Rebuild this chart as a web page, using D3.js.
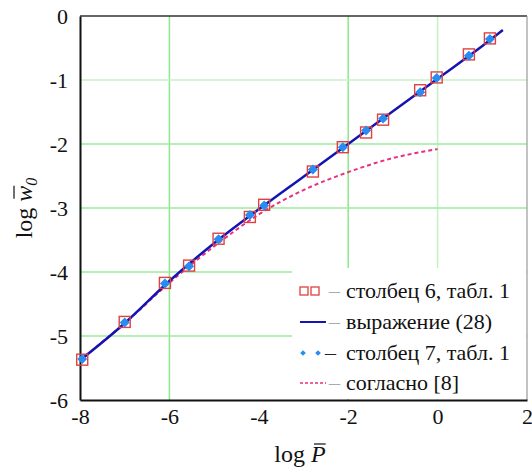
<!DOCTYPE html>
<html>
<head>
<meta charset="utf-8">
<script src="https://cdn.jsdelivr.net/npm/d3@7"></script>
<style>
  body { margin: 0; background: #fff; }
</style>
</head>
<body>
<svg id="chart" width="532" height="470" font-family="Liberation Serif"></svg>
<script>
// axis ticks
var xTicks = [-8, -6, -4, -2, 0, 2];
var yTicks = [0, -1, -2, -3, -4, -5, -6];
var xGrid = [-6, -2, 0];
var yGrid = [-1, -2, -3, -4, -5];

// столбец 6 / столбец 7, табл. 1
var pointX = [-7.95, -7.0, -6.1, -5.56, -4.9, -4.2, -3.88, -2.79, -2.12, -1.6, -1.22, -0.39, -0.02, 0.7, 1.17];
var col6Y = [-5.37, -4.78, -4.17, -3.90, -3.48, -3.14, -2.95, -2.43, -2.05, -1.82, -1.62, -1.16, -0.96, -0.60, -0.35];
var col7Y = [-5.36, -4.79, -4.18, -3.91, -3.49, -3.11, -2.96, -2.40, -2.05, -1.79, -1.60, -1.19, -0.97, -0.62, -0.36];

// выражение (28)
var exprX = [-8, -7, -6, -5, -4, -3, -2, -1, 0, 1, 1.46];
var exprY = [-5.38, -4.8, -4.14, -3.55, -3.02, -2.51, -2.0, -1.49, -0.98, -0.47, -0.22];

// согласно [8]
var refX = [-8, -7, -6, -5, -4, -3, -2, -1, 0];
var refY = [-5.38, -4.8, -4.17, -3.6, -3.1, -2.72, -2.44, -2.22, -2.08];

var legendLabels = ['столбец 6, табл. 1', 'выражение (28)', 'столбец 7, табл. 1', 'согласно [8]'];

var svg = d3.select('#chart');
var pl = 80, pr = 527, pt = 16, pb = 400;

var x = d3.scaleLinear().domain([-8, 2]).range([pl, pr]);
var y = d3.scaleLinear().domain([-6, 0]).range([pb, pt]);

// grid
svg.append('g').selectAll('line').data(xGrid).enter().append('line')
    .attr('x1', d => x(d)).attr('x2', d => x(d))
    .attr('y1', pt).attr('y2', pb)
    .attr('stroke', d => d == 0 ? '#c4f2c4' : '#8fe68f').attr('stroke-width', 1.5)
svg.append('g').selectAll('line').data(yGrid).enter().append('line')
    .attr('x1', pl).attr('x2', pr)
    .attr('y1', d => y(d)).attr('y2', d => y(d))
    .attr('stroke', d => d == -1 ? '#c4f2c4' : '#9eea9e').attr('stroke-width', 1.5)

// frame
svg.append('line').attr('x1', pl).attr('x2', pr).attr('y1', pt).attr('y2', pt)
    .attr('stroke', '#333').attr('stroke-width', 1.3)
svg.append('line').attr('x1', pr).attr('x2', pr).attr('y1', pt).attr('y2', pb)
    .attr('stroke', '#999').attr('stroke-width', 1.2)

// axes (labels only, no tick marks)
var fmt = d => String(d)
var xAxis = svg.append('g').attr('transform', 'translate(0,' + pb + ')')
    .call(d3.axisBottom(x).tickValues(xTicks).tickSize(0).tickPadding(6).tickFormat(fmt))
var yAxis = svg.append('g').attr('transform', 'translate(' + pl + ',0)')
    .call(d3.axisLeft(y).tickValues(yTicks).tickSize(0).tickPadding(12).tickFormat(fmt))
xAxis.selectAll('.domain').attr('stroke', '#111').attr('stroke-width', 2)
yAxis.selectAll('.domain').attr('stroke', '#111').attr('stroke-width', 2)
xAxis.attr('font-family', 'Liberation Serif').attr('font-size', 22)
yAxis.attr('font-family', 'Liberation Serif').attr('font-size', 22)
svg.selectAll('.tick text').attr('fill', '#111')
xAxis.selectAll('.tick text').attr('dy', '0.8em')

// lines
var line = d3.line().x(d => x(d[0])).y(d => y(d[1])).curve(d3.curveMonotoneX)
svg.append('path').datum(d3.zip(refX, refY)).attr('d', line)
    .attr('fill', 'none').attr('stroke', '#e8307c').attr('stroke-width', 2).attr('stroke-dasharray', '4,3')
svg.append('path').datum(d3.zip(exprX, exprY)).attr('d', line)
    .attr('fill', 'none').attr('stroke', '#1414b4').attr('stroke-width', 2.5)

// column 6 squares
svg.append('g').selectAll('rect').data(d3.zip(pointX, col6Y)).enter().append('rect')
    .attr('x', d => x(d[0]) - 5.5).attr('y', d => y(d[1]) - 5.5)
    .attr('width', 11).attr('height', 11)
    .attr('fill', 'none').attr('stroke', '#e04040').attr('stroke-width', 1.4)

// column 7 diamonds
var diamond = d3.symbol().type(d3.symbolSquare).size(50)
svg.append('g').selectAll('path').data(d3.zip(pointX, col7Y)).enter().append('path')
    .attr('d', diamond)
    .attr('transform', d => 'translate(' + x(d[0]) + ',' + y(d[1]) + ') rotate(45)')
    .attr('fill', '#2a8cf0')

// legend
var lg = svg.append('g').attr('font-family', 'Liberation Serif').attr('font-size', 22)
lg.append('rect').attr('x', 292).attr('y', 268).attr('width', pr - 292 - 1).attr('height', pb - 268 - 1).attr('fill', '#fff')
var rowY = [291, 322, 353, 383]
lg.selectAll('text.lab').data(legendLabels).enter().append('text').attr('class', 'lab')
    .attr('x', 346).attr('y', (d, i) => rowY[i]).attr('dy', '0.33em')
    .attr('fill', '#111').text(d => d)
lg.selectAll('text.dash').data(legendLabels).enter().append('text').attr('class', 'dash')
    .attr('x', (d, i) => i == 2 ? 325 : 329).attr('y', (d, i) => rowY[i]).attr('dy', '0.33em')
    .attr('fill', (d, i) => i == 2 ? '#222' : '#aaa').text('–')
;[304, 315].forEach(function (cx) {
    lg.append('rect').attr('x', cx - 4).attr('y', rowY[0] - 4).attr('width', 8).attr('height', 8)
        .attr('fill', 'none').attr('stroke', '#e04040').attr('stroke-width', 1.3)
})
lg.append('line').attr('x1', 300).attr('x2', 326).attr('y1', rowY[1]).attr('y2', rowY[1])
    .attr('stroke', '#1414b4').attr('stroke-width', 2)
;[303, 318].forEach(function (cx) {
    lg.append('path').attr('d', d3.symbol().type(d3.symbolSquare).size(16))
        .attr('transform', 'translate(' + cx + ',' + rowY[2] + ') rotate(45)').attr('fill', '#2a8cf0')
})
lg.append('line').attr('x1', 300).attr('x2', 326).attr('y1', rowY[3]).attr('y2', rowY[3])
    .attr('stroke', '#e8307c').attr('stroke-width', 1.6).attr('stroke-dasharray', '3,2')

// axis titles with overlines
function title(px, py, rot, parts) {
    var g = svg.append('g').attr('transform', 'translate(' + px + ',' + py + ') rotate(' + rot + ')')
    var tx = g.append('text').attr('text-anchor', 'middle').attr('font-family', 'Liberation Serif')
        .attr('font-size', 24).attr('fill', '#111')
    parts.forEach(function (p) {
        var s = tx.append('tspan').text(p.t)
        if (p.it) s.attr('font-style', 'italic')
        if (p.sub) s.attr('font-size', 16).attr('dy', 5)
    })
    // overline above the chosen character
    var node = tx.node()
    var idx = parts[0].t.length
    var ext = node.getExtentOfChar(idx)
    g.append('line').attr('x1', ext.x + 3).attr('x2', ext.x + ext.width)
        .attr('y1', ext.y + 3).attr('y2', ext.y + 3)
        .attr('stroke', '#111').attr('stroke-width', 1.2)
}
title(300, 462, 0, [{ t: 'log ' }, { t: 'P', it: true }])
title(32, 208, -90, [{ t: 'log ' }, { t: 'w', it: true }, { t: '0', it: true, sub: true }])
</script>
</body>
</html>
